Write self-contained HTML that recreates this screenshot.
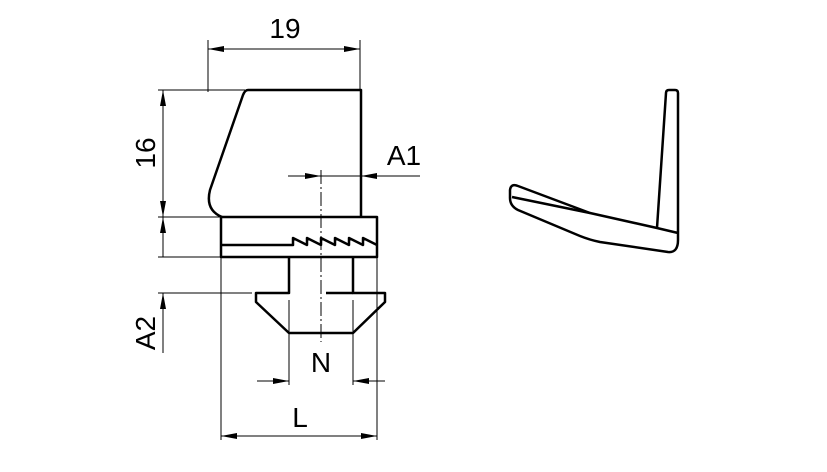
<!DOCTYPE html>
<html><head><style>body{margin:0;background:#fff}svg{display:block}</style></head><body>
<svg width="827" height="472" viewBox="0 0 827 472" xmlns="http://www.w3.org/2000/svg" font-family="Liberation Sans, sans-serif">
<defs>
<marker id="a" markerWidth="16" markerHeight="6" refX="16" refY="3" orient="auto" markerUnits="userSpaceOnUse"><path d="M0,0 L16,3 L0,6 Z" fill="#000"/></marker>
</defs>
<g stroke="#000" stroke-width="1" fill="none">
<!-- 19 -->
<line x1="208" y1="40" x2="208" y2="92"/>
<line x1="360" y1="40" x2="360" y2="90"/>
<line x1="284" y1="49" x2="208" y2="49" marker-end="url(#a)"/>
<line x1="284" y1="49" x2="360" y2="49" marker-end="url(#a)"/>
<!-- 16 -->
<line x1="158" y1="90" x2="245" y2="90"/>
<line x1="158" y1="217" x2="220" y2="217"/>
<line x1="163" y1="150" x2="163" y2="90" marker-end="url(#a)"/>
<line x1="163" y1="150" x2="163" y2="217" marker-end="url(#a)"/>
<!-- lower small dim -->
<line x1="158" y1="257" x2="220" y2="257"/>
<line x1="163" y1="257" x2="163" y2="217" marker-end="url(#a)"/>
<!-- A2 -->
<line x1="158" y1="293" x2="252" y2="293"/>
<line x1="163" y1="353" x2="163" y2="293" marker-end="url(#a)"/>
<!-- A1 -->
<line x1="288" y1="176" x2="321" y2="176" marker-end="url(#a)"/>
<line x1="420" y1="176" x2="361" y2="176" marker-end="url(#a)"/>
<line x1="321" y1="176" x2="361" y2="176"/>
<!-- centerline -->
<line x1="321" y1="170" x2="321" y2="342" stroke-dasharray="14,3,2,3"/>
<!-- N -->
<line x1="289" y1="300" x2="289" y2="385"/>
<line x1="353" y1="300" x2="353" y2="385"/>
<line x1="257" y1="381" x2="289" y2="381" marker-end="url(#a)"/>
<line x1="385" y1="381" x2="353" y2="381" marker-end="url(#a)"/>
<!-- L -->
<line x1="221" y1="257" x2="221" y2="440"/>
<line x1="377" y1="257" x2="377" y2="440"/>
<line x1="299" y1="436" x2="221" y2="436" marker-end="url(#a)"/>
<line x1="299" y1="436" x2="377" y2="436" marker-end="url(#a)"/>
</g>
<g stroke="#000" stroke-width="2.5" fill="none" stroke-linejoin="round">
<path d="M361,217 L361,90 L248,90 Q245,90 243,95 L210,190 Q205,210 222,217"/>
<rect x="221" y="217" width="156" height="40"/>
<path d="M221,245 L293,245 L293,238 L307,245 L307,238 L321,245 L321,238 L335,245 L335,238 L349,245 L349,238 L363,245 L363,238 L377,245"/>
<path d="M289,257 L289,293 L256,293 L256,302 L289,333 L353,333 L385,302 L385,293 L353,293 L353,257"/>
<path d="M326,293 L353,293"/>
<!-- right figure -->
<path d="M657,228 L666,93 Q666,90 669,90 L675,90 Q678,90 678,93 L678,240 Q678,253 668,252 L600,242 Q590,240 580,236 L518,210 Q510,206 510,198 L510,190 Q511,183 518,186 L590,213 L657,228 L678,233"/>
<path d="M512,197 L590,213"/>
</g>
<g font-size="28" fill="#000" text-anchor="middle">
<text x="285" y="38">19</text>
<text x="404" y="165">A1</text>
<text x="321" y="372">N</text>
<text x="300" y="427">L</text>
<text transform="translate(155,153) rotate(-90)">16</text>
<text transform="translate(155,333) rotate(-90)">A2</text>
</g>
</svg>
</body></html>
